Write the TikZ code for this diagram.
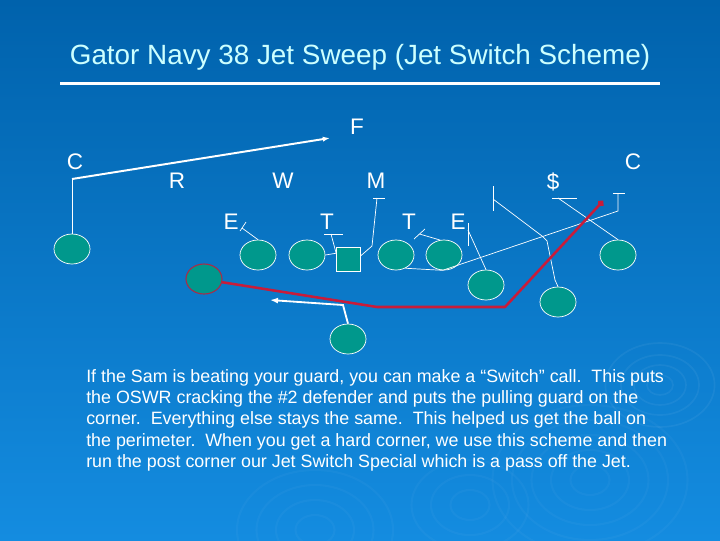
\documentclass[tikz,border=0pt]{standalone}
\usepackage{fontspec}
\setmainfont{Liberation Sans}
\usepackage{tikz}
\usetikzlibrary{arrows.meta, shapes.geometric}
\definecolor{gntop}{RGB}{0,98,172}
\definecolor{gnbot}{RGB}{20,140,224}
\definecolor{gnteal}{RGB}{0,152,140}
\definecolor{gnred}{RGB}{200,28,58}
\definecolor{gnrim}{RGB}{165,45,75}
\definecolor{gntitle}{RGB}{204,255,255}

\tikzset{
  player/.style={ellipse, draw=white, fill=gnteal, line width=0.5pt,
    minimum width=0.9cm, minimum height=0.75cm, inner sep=0pt},
  snapbox/.style={rectangle, draw=white, fill=gnteal, line width=0.5pt,
    minimum size=0.6cm, inner sep=0pt},
  lbl/.style={text=white, inner sep=0pt, font=\fontsize{16}{16}\selectfont},
  blk/.style={white, line width=0.5pt},
}

\begin{document}
\begin{tikzpicture}[x=0.025cm, y=-0.025cm]
% background
\useasboundingbox (0,0) rectangle (720,540);
\shade[top color=gntop, bottom color=gnbot] (0,0) rectangle (720,540);
\foreach \r in {10,20,30,42} \draw[white, opacity=0.05, line width=1.2pt] (660,385) ellipse ({1.3*\r} and \r);
\foreach \r in {15,30,45,60,75} \draw[white, opacity=0.03, line width=1.5pt] (590,480) ellipse ({1.3*\r} and \r);
\foreach \r in {15,30,45} \draw[white, opacity=0.03, line width=1.5pt] (470,505) ellipse ({1.3*\r} and \r);
\foreach \r in {15,30,45,60} \draw[white, opacity=0.03, line width=1.5pt] (315,530) ellipse ({1.3*\r} and \r);

% title
\node[gntitle, font=\fontsize{19.8}{24}\selectfont, anchor=base, inner sep=0pt] (title) at (360,64)
  {Gator Navy 38 Jet Sweep (Jet Switch Scheme)};
\fill[white] (60,81.5) rectangle (660,85);

% defense
\node[lbl] (lF)  at (357,127) {F};
\node[lbl] (lCl) at (75,162)  {C};
\node[lbl] (lR)  at (177,181) {R};
\node[lbl] (lW)  at (283,181) {W};
\node[lbl] (lM)  at (376,181) {M};
\node[lbl] (lS)  at (553,182) {\$};
\node[lbl] (lCr) at (633,162) {C};
\node[lbl] (lEl) at (231,222) {E};
\node[lbl] (lTl) at (327,222) {T};
\node[lbl] (lTr) at (409,222) {T};
\node[lbl] (lEr) at (458,222) {E};

% offense
\node[player] (wrL)  at (72,249)  {};
\node[player] (teL)  at (258,255) {};
\node[player] (tkL)  at (307,255) {};
\node[snapbox] (ctr) at (348.5,259) {};
\node[player] (gdR)  at (396,255) {};
\node[player] (tkR)  at (444,255) {};
\node[player] (teR)  at (486,285) {};
\node[player] (slot) at (558,302) {};
\node[player] (wrR)  at (618,255) {};
\node[player, draw=gnrim, line width=0.8pt] (jet) at (204,279) {};
\node[player] (rb)   at (348,339) {};

% block ends
\coordinate (cC)   at (72,179);
\coordinate (fTip) at (330,138);
\coordinate (eBlk) at (242,228);
\coordinate (tTl)  at (331,234);
\coordinate (mTop) at (377,198);
\coordinate (tTr)  at (419.5,234);
\coordinate (eRb)  at (468,230);
\coordinate (sTop) at (493,199);
\coordinate (dTop) at (558,198);
\coordinate (cPull) at (618,211);
\coordinate (cTop) at (618,193);
\coordinate (jTip) at (603,201);
\coordinate (bTip) at (270,300);

% corner to F
\draw[blk] (wrL.north) -- (cC);
\draw[white, line width=1.4pt, -{Latex[length=0.18cm, width=0.13cm]}] (cC) -- (fTip);

% line blocks
\draw[blk] (teL.north) -- (eBlk);
\draw[blk] (eBlk) ++(-2,3) -- ++(6,-9);
\draw[blk] (tkL.east) -- (ctr.155) -- (tTl);
\draw[blk] (tTl) ++(-7,0) -- ++(19,0);
\draw[blk] (ctr.15) -- (372,246) -- (mTop);
\draw[blk] (mTop) ++(-4,0) -- ++(12,0);
\draw[blk] (tkR.105) -- (tTr);
\draw[blk] (tTr) ++(-5.5,5) -- ++(11,-10);
\draw[blk] (gdR.-55) -- (tkR.-95) -- (cPull) -- (cTop);
\draw[blk] (cTop) ++(-5,0) -- ++(12,0);
\draw[blk] (teR.north) -- (eRb);
\draw[blk] (eRb) ++(0,-7) -- ++(0,23);
\draw[blk] (slot.north) -- (555,280) -- (547,241) -- (542,236) -- (sTop);
\draw[blk] (sTop) ++(0,-13) -- ++(0,25);
\draw[blk] (wrR.north) -- (dTop);
\draw[blk] (dTop) ++(-6,0) -- ++(25,0);

% jet sweep
\draw[gnred, line width=1.8pt, line join=round, -{Circle[length=0.16cm]}]
  (jet.-10) -- (377,307) -- (505,307) -- (jTip);

% back
\draw[white, line width=1.3pt, -{Latex[length=0.2cm, width=0.15cm]}]
  (rb.north) -- (343,305) -- (bTip);

% note
\node[white, font=\fontsize{12.7}{15.2}\selectfont, align=left, anchor=north west, inner sep=0pt] (note) at (86,369)
  {If the Sam is beating your guard, you can make a “Switch” call.\ \ This puts\\
   the OSWR cracking the \#2 defender and puts the pulling guard on the\\
   corner.\ \ Everything else stays the same.\ \ This helped us get the ball on\\
   the perimeter.\ \ When you get a hard corner, we use this scheme and then\\
   run the post corner our Jet Switch Special which is a pass off the Jet.};
\end{tikzpicture}
\end{document}
